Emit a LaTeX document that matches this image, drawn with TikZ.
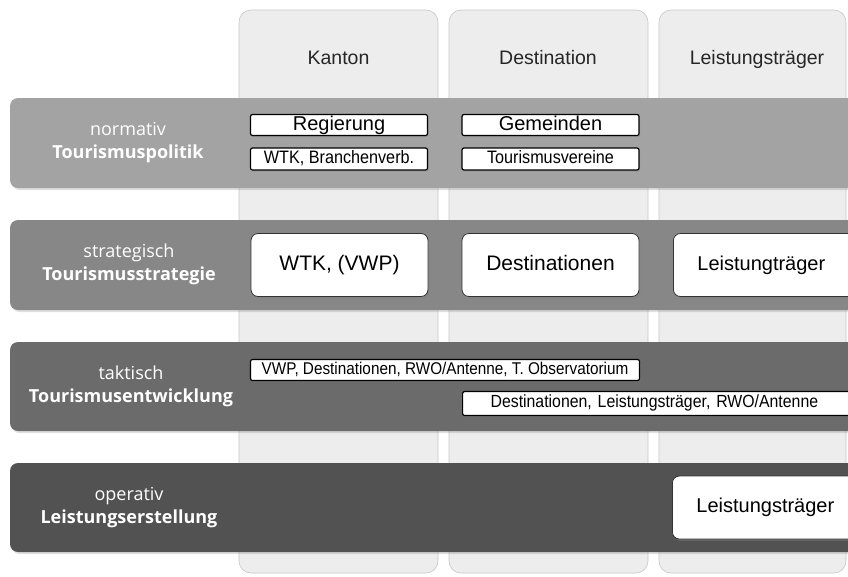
\documentclass[tikz,border=0pt]{standalone}
\usepackage{fontspec}
\setmainfont{Liberation Sans}
\newfontfamily\bandfont{Open Sans}
\newfontfamily\narrowfont[FakeStretch=0.9]{Liberation Sans}
\usetikzlibrary{shadows}
\definecolor{colfill}{gray}{0.93}
\definecolor{colline}{gray}{0.78}
\definecolor{bandA}{gray}{0.64}
\definecolor{bandB}{gray}{0.53}
\definecolor{bandC}{gray}{0.42}
\definecolor{bandD}{gray}{0.32}
\tikzset{
  fsz/.style 2 args={font=#1\fontsize{#2}{#2}\selectfont,text height=0.72*#2 pt,text depth=0.21*#2 pt},
}
\begin{document}
\begin{tikzpicture}[x=1pt,y=-1pt,
  colbox/.style={fill=colfill,draw=colline,line width=0.6pt,rounded corners=12pt},
  band/.style={rounded corners=8pt,drop shadow={shadow xshift=1.5pt,shadow yshift=-2pt,opacity=0.25}},
  head/.style={fsz={}{19.5},text=black!85},
  bandtxt/.style={text=white,align=center,font=\bandfont\fontsize{18}{23}\selectfont},
  smallbox/.style={draw=black,line width=1.2pt,fill=white,rounded corners=2pt,inner sep=0pt,
    drop shadow={shadow xshift=1pt,shadow yshift=-1.5pt,opacity=0.35}},
  bigbox/.style={draw=black!80,line width=0.8pt,fill=white,rounded corners=7pt,inner sep=0pt,
    drop shadow={shadow xshift=1.5pt,shadow yshift=-2pt,opacity=0.35}},
  leftbox/.style={bigbox,anchor=west,minimum height=63pt,text width=158pt,inner xsep=24pt,align=left},
  bigtxt/.style={fsz={}{21}},
  medtxt/.style={fsz={}{20}},
  nartxt/.style={fsz={\narrowfont}{18}},
]
\useasboundingbox (0,0) rectangle (848,576);
% columns
\path[colbox] (239,10) rectangle (438,573);
\path[colbox] (449,10) rectangle (648,573);
\path[colbox] (659,10) rectangle (846,573);
\node[head] (hk) at (338.5,60) {Kanton};
\node[head] (hd) at (548,60) {Destination};
\node[head] (hl) at (757,60) {Leistungsträger};
% bands
\path[band,fill=bandA] (10,98) rectangle (880,188);
\path[band,fill=bandB] (10,220) rectangle (880,310);
\path[band,fill=bandC] (10,342) rectangle (880,431);
\path[band,fill=bandD] (10,463) rectangle (880,552);
\node[bandtxt] (b1) at (128,143) {normativ\\\bfseries Tourismuspolitik};
\node[bandtxt] (b2) at (129,264) {strategisch\\\bfseries Tourismusstrategie};
\node[bandtxt] (b3) at (131,386) {taktisch\\\bfseries Tourismusentwicklung};
\node[bandtxt] (b4) at (129,508) {operativ\\\bfseries Leistungserstellung};
% row 1
\node[smallbox,minimum width=177pt,minimum height=21pt,medtxt] (reg) at (339,125) {Regierung};
\node[smallbox,minimum width=177pt,minimum height=22pt,nartxt] (wtk) at (339,159) {WTK, Branchenverb.};
\node[smallbox,minimum width=177pt,minimum height=21pt,medtxt] (gem) at (550.5,125) {Gemeinden};
\node[smallbox,minimum width=177pt,minimum height=22pt,nartxt] (tv) at (550.5,159) {Tourismusvereine};
% row 2
\node[bigbox,minimum width=177pt,minimum height=63pt,bigtxt] (wtkv) at (339.5,265) {WTK, (VWP)};
\node[bigbox,minimum width=177pt,minimum height=63pt,bigtxt] (dest) at (550.5,265) {Destinationen};
\node[leftbox,medtxt] (lt2) at (673,265) {Leistungträger};
% row 3
\node[smallbox,minimum width=389pt,minimum height=21pt,fsz={\narrowfont}{17}] (vwp) at (445,370) {VWP, Destinationen, RWO/Antenne, T.~Observatorium};
\node[smallbox,minimum width=392pt,minimum height=24pt,fsz={\narrowfont}{17.6},anchor=west,text width=364pt,inner xsep=28pt,align=left] (dlr) at (462,403.5) {Destinationen, Leistungsträger, RWO/Antenne};
% row 4
\node[leftbox,medtxt] (lt4) at (672,507.5) {Leistungsträger};
\end{tikzpicture}
\end{document}
